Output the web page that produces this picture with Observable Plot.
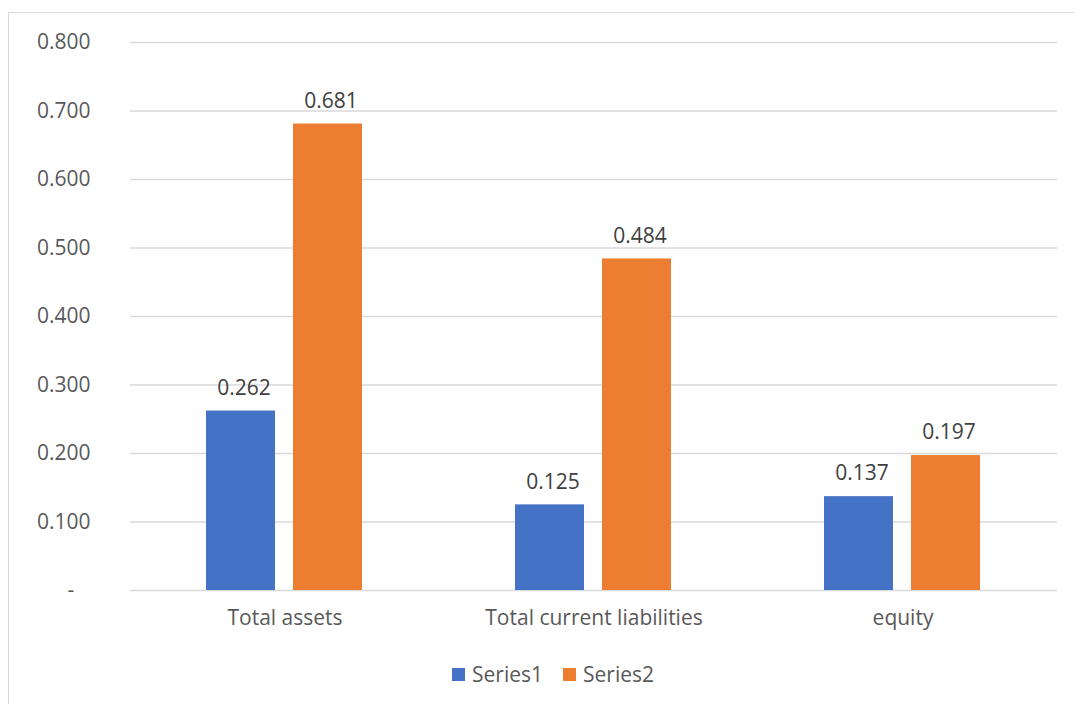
<!DOCTYPE html>
<html>
<head>
<meta charset="utf-8">
<script src="https://cdn.jsdelivr.net/npm/d3@7"></script>
<script src="https://cdn.jsdelivr.net/npm/@observablehq/plot@0.6"></script>
<style>
  html, body { margin: 0; padding: 0; background: #fff; overflow: hidden; width: 1074px; height: 704px; }
  #frame { position: absolute; left: 8px; top: 12px; width: 1200px; height: 800px; border: 1.5px solid #d9d9d9; box-sizing: border-box; }
  #chart { position: absolute; left: 0; top: 0; }
  #legend { position: absolute; left: 452px; top: 660px; font-family: "Open Sans", sans-serif; font-size: 21px; color: #595959; display: flex; align-items: center; white-space: nowrap; }
  .item { display: flex; align-items: center; margin-right: 20px; }
  .sw { width: 13px; height: 13px; margin-right: 7px; display: inline-block; }
</style>
</head>
<body>
<div id="frame"></div>
<div id="chart"></div>
<div id="legend"></div>
<script>
const categories = ["Total assets", "Total current liabilities", "equity"];
const seriesNames = ["Series1", "Series2"];
const series1 = [0.262, 0.125, 0.137];
const series2 = [0.681, 0.484, 0.197];
const yTicks = [0, 0.1, 0.2, 0.3, 0.4, 0.5, 0.6, 0.7, 0.8];
const colors = ["#4472C4", "#ED7D31"];

const data = [];
categories.forEach((c, i) => {
  data.push({category: c, series: seriesNames[0], value: series1[i]});
  data.push({category: c, series: seriesNames[1], value: series2[i]});
});

const fmtY = d => d === 0 ? "-\u00a0\u00a0\u00a0" : d.toFixed(3);

const chart = Plot.plot({
  width: 1074,
  height: 640,
  marginLeft: 130,
  marginRight: 17,
  marginTop: 42,
  marginBottom: 50,
  style: {fontFamily: "'Open Sans', sans-serif", fontSize: "21px", color: "#595959", background: "transparent"},
  fx: {domain: categories, padding: 0, label: null},
  x: {domain: seriesNames, paddingInner: 0.2045, paddingOuter: 0.858, axis: null},
  y: {domain: [0, 0.8], label: null},
  color: {domain: seriesNames, range: colors},
  marks: [
    Plot.ruleY(yTicks, {stroke: "#d9d9d9", strokeWidth: 1.5}),
    Plot.barY(data, {fx: "category", x: "series", y: "value", fill: "series"}),
    Plot.text(data, {fx: "category", x: "series", y: "value", text: d => d.value.toFixed(3), dy: -23, dx: 3, fill: "#404040", fontSize: 21}),
    Plot.axisY({ticks: yTicks, tickFormat: fmtY, tickSize: 0, tickPadding: 40, label: null, fill: "#595959", fontSize: 21}),
    Plot.axisFx({anchor: "bottom", tickSize: 0, tickPadding: 20, label: null, fill: "#595959", fontSize: 21})
  ]
});
document.getElementById("chart").appendChild(chart);

const legend = document.getElementById("legend");
seriesNames.forEach((s, i) => {
  const item = document.createElement("div");
  item.className = "item";
  const sw = document.createElement("span");
  sw.className = "sw";
  sw.style.background = colors[i];
  item.appendChild(sw);
  const t = document.createElement("span");
  t.textContent = s;
  item.appendChild(t);
  legend.appendChild(item);
});
</script>
</body>
</html>
